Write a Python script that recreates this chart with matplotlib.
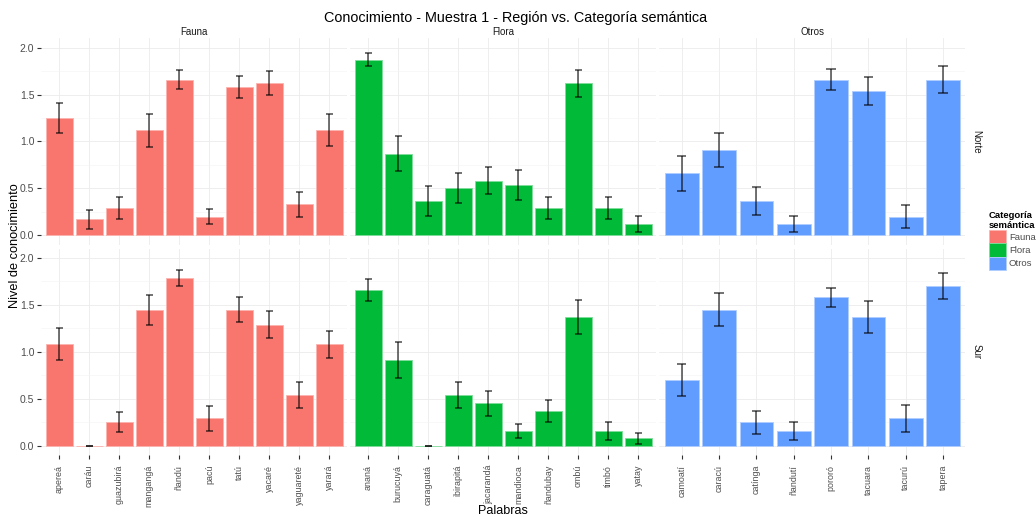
import numpy as np
import matplotlib.pyplot as plt
from matplotlib.patches import Patch

plt.rcParams['font.family'] = ['Liberation Sans', 'DejaVu Sans']

# palabras por categoría
fauna = ['apereá', 'caráu', 'guazubirá', 'mangangá', 'ñandú', 'pacú', 'tatú',
         'yacaré', 'yaguareté', 'yarará']
flora = ['ananá', 'burucuyá', 'caraguatá', 'ibirapitá', 'jacarandá', 'mandioca',
         'ñandubay', 'ombú', 'timbó', 'yatay']
otros = ['camoatí', 'caracú', 'catínga', 'ñandutí', 'pororó', 'tacuara',
         'tacurú', 'tapera']

# Norte: media y error estándar
norte_fauna = [1.25, 0.17, 0.29, 1.12, 1.66, 0.20, 1.58, 1.62, 0.33, 1.12]
norte_fauna_se = [0.16, 0.10, 0.115, 0.175, 0.10, 0.08, 0.12, 0.13, 0.13, 0.17]
norte_flora = [1.87, 0.87, 0.37, 0.50, 0.58, 0.54, 0.29, 1.62, 0.29, 0.12]
norte_flora_se = [0.07, 0.185, 0.16, 0.16, 0.145, 0.16, 0.115, 0.146, 0.115, 0.09]
norte_otros = [0.66, 0.91, 0.37, 0.12, 1.66, 1.54, 0.20, 1.66]
norte_otros_se = [0.19, 0.18, 0.15, 0.09, 0.115, 0.15, 0.125, 0.145]

# Sur: media y error estándar
sur_fauna = [1.08, 0.0, 0.25, 1.45, 1.79, 0.29, 1.45, 1.29, 0.54, 1.08]
sur_fauna_se = [0.17, 0.0, 0.107, 0.16, 0.085, 0.13, 0.133, 0.142, 0.137, 0.147]
sur_flora = [1.66, 0.91, 0.0, 0.54, 0.45, 0.16, 0.37, 1.37, 0.16, 0.08]
sur_flora_se = [0.115, 0.19, 0.0, 0.135, 0.133, 0.076, 0.115, 0.18, 0.097, 0.058]
sur_otros = [0.70, 1.45, 0.25, 0.16, 1.58, 1.37, 0.29, 1.70]
sur_otros_se = [0.17, 0.175, 0.124, 0.097, 0.10, 0.17, 0.144, 0.142]

categorias = ['Fauna', 'Flora', 'Otros']
regiones = ['Norte', 'Sur']
colores = ['#F8766D', '#00BA38', '#619CFF']
bordes = ['#FBB3AE', '#7FDC9B', '#B0CDFF']

palabras = [fauna, flora, otros]
medias = [[norte_fauna, norte_flora, norte_otros], [sur_fauna, sur_flora, sur_otros]]
errores = [[norte_fauna_se, norte_flora_se, norte_otros_se],
           [sur_fauna_se, sur_flora_se, sur_otros_se]]

W, H = 1036, 517
fig = plt.figure(figsize=(W / 100, H / 100), dpi=100)

# posiciones de los paneles en pixeles
lefts = [41.3, 350.3, 659.3]
pw = 306.2
tops = [38.2, 248.6]
ph = 206.5

gris = '#4D4D4D'
for r in range(2):
    for c in range(3):
        ax = fig.add_axes([lefts[c] / W, 1 - (tops[r] + ph) / H, pw / W, ph / H])
        x = np.arange(len(palabras[c]))
        m = np.array(medias[r][c])
        e = np.array(errores[r][c])
        ax.bar(x, m, width=0.9, color=colores[c], edgecolor=bordes[c], linewidth=0.6, zorder=2)
        ax.vlines(x, m - e, m + e, color='black', alpha=0.7, linewidth=1.1, zorder=3)
        ax.hlines(m - e, x - 0.125, x + 0.125, color='black', alpha=0.7, linewidth=1.1, zorder=3)
        ax.hlines(m + e, x - 0.125, x + 0.125, color='black', alpha=0.7, linewidth=1.1, zorder=3)

        ax.set_xlim(-0.6, len(x) - 0.4)
        ax.set_ylim(-0.1, 2.1)
        ax.set_xticks(x)
        ax.set_yticks([0, 0.5, 1.0, 1.5, 2.0])
        ax.set_yticks([0.25, 0.75, 1.25, 1.75], minor=True)
        ax.grid(which='major', color='#EBEBEB', linewidth=0.6, zorder=0)
        ax.grid(which='minor', axis='y', color='#F4F4F4', linewidth=0.4, zorder=0)
        ax.set_axisbelow(True)
        for s in ax.spines.values():
            s.set_visible(False)
        ax.tick_params(which='minor', length=0)

        if c == 0:
            ax.set_yticklabels(['0.0', '0.5', '1.0', '1.5', '2.0'])
            ax.tick_params(axis='y', length=3, width=0.8, color='#333333',
                           labelsize=7.5, labelcolor=gris, pad=2)
        else:
            ax.tick_params(axis='y', length=0, labelleft=False)

        if r == 1:
            ax.set_xticklabels(palabras[c], rotation=90, va='top', ha='center')
            ax.tick_params(axis='x', length=3, width=0.8, color='#333333',
                           labelsize=6.4, labelcolor=gris, pad=4)
        else:
            ax.tick_params(axis='x', length=0, labelbottom=False)

        if r == 0:
            ax.text(0.5, 1.03, categorias[c], transform=ax.transAxes, ha='center',
                    va='center', fontsize=7, color='#1A1A1A')
        if c == 2:
            ax.text(1.02, 0.5, regiones[r], transform=ax.transAxes, ha='left',
                    va='center', rotation=-90, fontsize=7, color='#1A1A1A')

fig.text(516 / W, 1 - 18 / H, 'Conocimiento - Muestra 1 - Región vs. Categoría semántica',
         ha='center', va='center', fontsize=10.4, color='black')
fig.text(503 / W, 1 - 511 / H, 'Palabras', ha='center', va='center', fontsize=9)
fig.text(15 / W, 1 - 246 / H, 'Nivel de conocimiento', ha='center', va='center',
         rotation=90, fontsize=9.2)

handles = [Patch(facecolor=colores[i], edgecolor=bordes[i], linewidth=0.6)
           for i in range(3)]
leg = fig.legend(handles, categorias, title='Categoría\nsemántica', loc='upper left',
                 bbox_to_anchor=(989 / W, 1 - 211 / H), frameon=False, fontsize=6.8,
                 title_fontsize=6.8, handlelength=1.75, handleheight=1.75,
                 labelspacing=0, handletextpad=0.35, borderaxespad=0,
                 borderpad=0, alignment='left')
leg.get_title().set_fontweight('bold')
for t in leg.get_texts():
    t.set_color(gris)

fig.savefig('out.png', dpi=100)
